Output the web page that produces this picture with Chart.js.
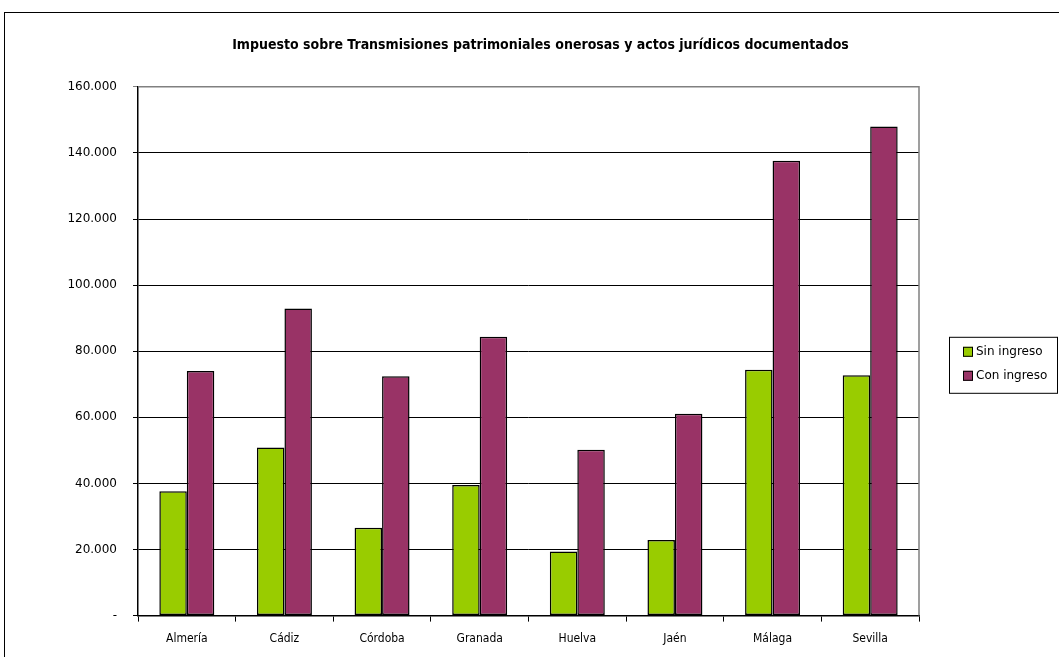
<!DOCTYPE html>
<html>
<head>
<meta charset="utf-8">
<script src="https://cdn.jsdelivr.net/npm/chart.js@4"></script>
<style>
html, body { margin: 0; padding: 0; background: #fff; overflow: hidden; }
#wrap { position: relative; width: 1059px; height: 657px; overflow: hidden; }
#frame { position: absolute; left: 4px; top: 12px; width: 1200px; height: 800px;
         border-left: 1.5px solid #000; border-top: 1.5px solid #000; }
canvas { position: absolute; left: 0; top: 0; }
</style>
</head>
<body>
<div id="wrap">
  <div id="frame"></div>
  <canvas id="chart" width="1059" height="657"></canvas>
</div>
<script>
const provincias = ["Almería", "Cádiz", "Córdoba", "Granada", "Huelva", "Jaén", "Málaga", "Sevilla"];
const sinIngreso = [37600, 50900, 26600, 39500, 19400, 22900, 74400, 72700];
const conIngreso = [74000, 92900, 72400, 84400, 50200, 61100, 137600, 148000];
const yMax = 160000;
const yStep = 20000;

const narrow = '"DejaVu Sans Condensed", "DejaVu Sans", sans-serif';
const regular = '"DejaVu Sans", sans-serif';

// thousands with dots, zero shown as "-"
function fmt(v) {
    if (v === 0) return "-";
    return String(v).replace(/\B(?=(\d{3})+(?!\d))/g, ".");
}

// grey frame on top/right of the plot + boxed legend
const frameAndLegend = {
    id: "frameAndLegend",
    afterDraw(chart) {
        const ctx = chart.ctx;
        const a = chart.chartArea;
        ctx.save();
        ctx.strokeStyle = "#808080";
        ctx.lineWidth = 1.5;
        ctx.beginPath();
        ctx.moveTo(a.left, a.top);
        ctx.lineTo(a.right, a.top);
        ctx.lineTo(a.right, a.bottom);
        ctx.stroke();

        const lx = a.right + 30, ly = a.top + 250;
        ctx.fillStyle = "#fff";
        ctx.strokeStyle = "#000";
        ctx.lineWidth = 1;
        ctx.fillRect(lx, ly, 108, 56);
        ctx.strokeRect(lx + 0.5, ly + 0.5, 108, 56);
        ctx.font = "12px " + regular;
        ctx.textBaseline = "middle";
        chart.data.datasets.forEach((ds, i) => {
            const y = ly + 15 + i * 24;
            ctx.fillStyle = ds.backgroundColor;
            ctx.fillRect(lx + 14, y - 5, 10, 10);
            ctx.strokeRect(lx + 14.5, y - 4.5, 9, 9);
            ctx.fillStyle = "#000";
            ctx.fillText(ds.label, lx + 27, y);
        });
        ctx.restore();
    }
};

new Chart(document.getElementById("chart"), {
    type: "bar",
    data: {
        labels: provincias,
        datasets: [{
            label: "Sin ingreso",
            data: sinIngreso,
            backgroundColor: "#99CC00",
            borderColor: "#000",
            borderWidth: 1.5,
            borderSkipped: false
        }, {
            label: "Con ingreso",
            data: conIngreso,
            backgroundColor: "#993366",
            borderColor: "#000",
            borderWidth: 1.5,
            borderSkipped: false
        }]
    },
    options: {
        responsive: false,
        animation: false,
        layout: { padding: { top: 0, left: 22, right: 0, bottom: 1 } },
        datasets: { bar: { categoryPercentage: 0.563, barPercentage: 1 } },
        plugins: {
            legend: { display: false },
            tooltip: { enabled: false },
            title: {
                display: true,
                text: "Impuesto sobre Transmisiones patrimoniales onerosas y actos jurídicos documentados",
                color: "#000",
                font: { family: narrow, size: 14, weight: "bold" },
                padding: { top: 37, bottom: 33 }
            }
        },
        scales: {
            x: {
                grid: { offset: true, drawOnChartArea: false, color: "#000", tickLength: 6 },
                border: { color: "#000", width: 1.5 },
                ticks: { color: "#000", padding: 10, font: { family: narrow, size: 12 } }
            },
            y: {
                min: 0,
                max: yMax,
                afterFit(scale) { scale.width = 116; },
                grid: {
                    color: ctx => ctx.tick && ctx.tick.value === yMax ? "#808080" : "#000",
                    lineWidth: 1,
                    tickLength: 5
                },
                border: { color: "#000", width: 1.5 },
                ticks: {
                    stepSize: yStep,
                    color: "#000",
                    padding: 16,
                    font: { family: regular, size: 12 },
                    callback: v => fmt(v)
                }
            },
            // empty right-hand space that holds the legend
            legendSpace: {
                position: "right",
                min: 0,
                max: yMax,
                afterFit(scale) { scale.width = 140; },
                grid: { display: false },
                border: { display: false },
                ticks: { display: false }
            }
        }
    },
    plugins: [frameAndLegend]
});
</script>
</body>
</html>
